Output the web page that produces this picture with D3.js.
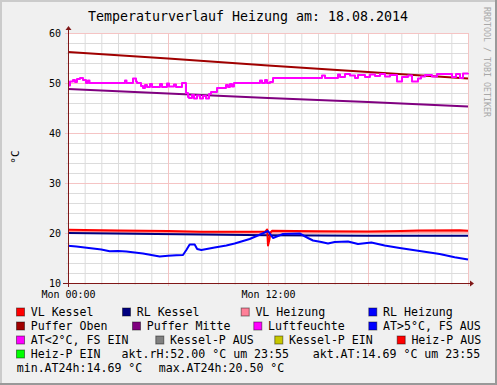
<!DOCTYPE html>
<html><head><meta charset="utf-8">
<script src="https://cdn.jsdelivr.net/npm/d3@7"></script>
<style>body{margin:0;background:#f0f0f0}svg{display:block}text{font-family:"DejaVu Sans Mono",monospace}</style>
</head><body>
<script>
// ---- data ----
const title = "Temperaturverlauf Heizung am: 18.08.2014";
const yTicks = [10, 20, 30, 40, 50, 60];
const xTickHours = [0, 12];
const xTickLabels = ["Mon 00:00", "Mon 12:00"];
// [hour, °C]
const pufferOben = [[0,56.2],[6,54.9],[12,53.5],[18,52.2],[24,50.9]];
const pufferMitte = [[0,48.8],[6,47.9],[12,47.0],[18,46.2],[24,45.3]];
const rlKessel = [[0,20.0],[4,19.85],[8,19.7],[12,19.55],[18,19.45],[24,19.45]];
const vlHeizung = [[0,20.3],[4,20.2],[8,20.1],[12,20.15],[18,20.2],[24,20.25]];
const vlKessel = [[0,20.65],[3,20.5],[6,20.4],[8,20.25],[11,20.25],[11.85,20.3],[11.95,20.7],[12.0,17.5],[12.08,18.6],[12.15,20.1],[12.25,20.45],[15,20.35],[18,20.3],[20,20.4],[21,20.5],[23.5,20.55],[24,20.45]];
const aussen = [[0,17.45],[0.5,17.3],[1,17.1],[1.5,16.9],[2,16.7],[2.5,16.35],[3,16.4],[3.5,16.3],[4,16.1],[4.5,15.9],[5,15.6],[5.5,15.3],[6,15.45],[6.5,15.55],[6.9,15.6],[7.1,16.6],[7.3,17.7],[7.6,17.7],[7.75,16.8],[8,16.6],[8.8,17.1],[9.5,17.5],[10,17.9],[10.9,18.8],[11.6,19.8],[12,20.4],[12.3,19.0],[12.6,19.4],[12.9,19.8],[13.9,19.9],[14.4,19.0],[14.7,18.5],[15.2,18.2],[15.6,17.9],[16.0,18.2],[16.8,18.3],[17.4,17.8],[18.2,18.1],[19,17.5],[19.9,17.0],[21.1,16.4],[22.3,15.8],[23.2,15.15],[24,14.69]];
const luftfeuchte = [[0,49.5],[0.12,50.3],[0.3,50.6],[0.42,50.2],[0.54,50.8],[0.72,51.0],[0.9,50.6],[1.08,50.0],[1.2,50.5],[1.29,50.0],[3.42,50.5],[3.51,50.0],[3.9,50.9],[4.08,50.3],[4.14,50.0],[4.38,49.4],[4.5,49.0],[4.62,49.6],[4.74,49.2],[4.92,49.8],[5.04,49.2],[5.52,49.8],[5.64,49.2],[5.94,49.9],[6.06,49.3],[6.36,49.7],[6.48,49.2],[6.84,50.0],[7.08,48.0],[7.2,47.2],[7.26,47.0],[7.44,47.6],[7.56,46.9],[7.74,47.5],[7.92,46.9],[8.1,47.4],[8.28,46.9],[8.46,47.8],[8.58,48.2],[8.94,49.0],[9.36,49.0],[9.48,49.6],[9.6,49.2],[9.72,49.8],[9.84,49.3],[9.96,50.0],[11.52,50.5],[11.64,50.0],[11.82,50.6],[11.94,50.0],[12.12,50.2],[12.3,51.0],[15.24,51.5],[15.42,51.0],[16.2,51.7],[16.32,51.2],[16.62,51.8],[16.92,51.5],[17.22,51.0],[17.4,51.6],[17.82,51.2],[18.12,51.7],[18.42,51.4],[18.72,51.8],[19.02,51.3],[19.32,51.6],[19.74,50.3],[20.04,51.2],[20.4,51.5],[20.64,50.3],[21.0,50.9],[21.18,51.3],[21.42,51.6],[21.84,51.3],[22.14,51.8],[22.62,51.8],[23.04,51.2],[23.28,51.8],[23.52,51.0],[23.7,51.9],[24.0,52.0]];
const legendLabels = ["VL Kessel","RL Kessel","VL Heizung","RL Heizung","Puffer Oben","Puffer Mitte","Luftfeuchte","AT>5°C, FS AUS","AT<2°C, FS EIN","Kessel-P AUS","Kessel-P EIN","Heiz-P AUS","Heiz-P EIN"];
const legendColors = ["#ff0000","#000080","#ff8098","#0000ff","#a00000","#800080","#ff00ff","#0000ff","#ff00ff","#808080","#c8c800","#ff0000","#00ff00"];
const infoTexts = ["akt.rH:52.00 °C um 23:55","akt.AT:14.69 °C um 23:55","min.AT24h:14.69 °C","max.AT24h:20.50 °C"];

// ---- layout ----
const W = 497, H = 385;
const svg = d3.select("body").append("svg").attr("width", W).attr("height", H);
svg.append("rect").attr("width", W).attr("height", H).attr("fill", "#f0f0f0");
// shade frame
svg.append("rect").attr("x",0).attr("y",0).attr("width",W).attr("height",2).attr("fill","#cbcbcb");
svg.append("rect").attr("x",0).attr("y",0).attr("width",2).attr("height",H).attr("fill","#cbcbcb");
svg.append("rect").attr("x",0).attr("y",H-2).attr("width",W).attr("height",2).attr("fill","#999");
svg.append("rect").attr("x",W-2).attr("y",0).attr("width",2).attr("height",H).attr("fill","#999");

const x = d3.scaleLinear().domain([0, 24]).range([68, 468]);
const y = d3.scaleLinear().domain([10, 60]).range([283, 33]);

svg.append("rect").attr("x", x(0)).attr("y", y(60)).attr("width", x(24)-x(0)).attr("height", y(10)-y(60)).attr("fill", "#fff");

const g = svg.append("g");
// minor grid
d3.range(0, 25, 1).filter(h => h % 6 !== 0).forEach(h => {
  g.append("line").attr("x1", x(h)+0.5).attr("x2", x(h)+0.5).attr("y1", y(60)).attr("y2", y(10)+2).attr("stroke", "#dcdcdc");
});
d3.range(10, 61, 2).filter(v => v % 10 !== 0).forEach(v => {
  g.append("line").attr("x1", x(0)-2).attr("x2", x(24)).attr("y1", y(v)+0.5).attr("y2", y(v)+0.5).attr("stroke", "#dcdcdc");
});
// major grid
d3.range(0, 25, 6).forEach(h => {
  g.append("line").attr("x1", x(h)+0.5).attr("x2", x(h)+0.5).attr("y1", y(60)).attr("y2", y(10)+3).attr("stroke", "#f5c4c4");
});
yTicks.forEach(v => {
  g.append("line").attr("x1", x(0)-3).attr("x2", x(24)).attr("y1", y(v)+0.5).attr("y2", y(v)+0.5).attr("stroke", "#f5c4c4");
});

// series
const line = d3.line().x(d => x(d[0])).y(d => y(d[1]));
const step = d3.line().x(d => x(d[0])).y(d => y(d[1])).curve(d3.curveStepAfter);
function draw(data, color, gen, w, op) {
  svg.append("path").datum(data).attr("d", gen).attr("fill", "none").attr("stroke", color)
    .attr("stroke-width", w).attr("stroke-opacity", op || 1).attr("stroke-linejoin", "round");
}
draw(pufferOben, "#a00000", line, 2);
draw(pufferMitte, "#800080", line, 2);
draw(luftfeuchte, "#ff00ff", step, 2);
draw(vlHeizung, "#ff5050", line, 2, 0.6);
draw(rlKessel, "#000080", line, 2);
draw(vlKessel, "#ff0000", line, 2);
draw(aussen, "#0000ff", line, 2);

// axes
const axisColor = "#801818";
const ax = svg.append("g");
ax.append("line").attr("x1", x(0)-5).attr("x2", x(24)+2).attr("y1", y(10)+0.5).attr("y2", y(10)+0.5).attr("stroke", axisColor);
ax.append("path").attr("d", `M${x(24)+2},${y(10)-2.5}L${x(24)+6},${y(10)+0.5}L${x(24)+2},${y(10)+3.5}Z`).attr("fill", axisColor);
ax.append("line").attr("x1", x(0)+0.5).attr("x2", x(0)+0.5).attr("y1", y(10)+4).attr("y2", y(60)-3).attr("stroke", axisColor);
ax.append("path").attr("d", `M${x(0)-2.5},${y(60)-3}L${x(0)+0.5},${y(60)-7}L${x(0)+3.5},${y(60)-3}Z`).attr("fill", axisColor);

const yAxis = svg.append("g").attr("transform", `translate(${x(0)},0.5)`)
  .call(d3.axisLeft(y).tickValues(yTicks).tickSize(0).tickPadding(7).tickFormat(d3.format("d")));
yAxis.select(".domain").remove();
yAxis.selectAll("text").attr("font-family", "DejaVu Sans Mono").attr("font-size", 10).attr("fill", "#000");

const xAxis = svg.append("g").attr("transform", `translate(0,${y(10)})`)
  .call(d3.axisBottom(x).tickValues(xTickHours).tickSize(0).tickPadding(8).tickFormat((d, i) => xTickLabels[i]));
xAxis.select(".domain").remove();
xAxis.selectAll("text").attr("font-family", "DejaVu Sans Mono").attr("font-size", 10).attr("fill", "#000");

// title
svg.append("text").attr("x", 248).attr("y", 20.7).attr("text-anchor", "middle").attr("font-size", 13.3).attr("fill", "#000").text(title);
// y label
svg.append("text").attr("transform", "translate(18.5,157) rotate(-90)").attr("text-anchor", "middle").attr("font-size", 11).attr("fill", "#000").text("°C");
// watermark
svg.append("text").attr("transform", "translate(483.5,7) rotate(90)").attr("font-size", 8.3).attr("fill", "#a8a8a8").text("RRDTOOL / TOBI OETIKER");

// legend
const legendPos = [[16,1],[122,1],[240.7,1],[368.3,1],[16,2],[132,2],[253.3,2],[368.3,2],[16,3],[155.3,3],[274.3,3],[396.7,3],[16,4]];
const rowBase = [0, 315.5, 329.5, 343.5, 357.5, 371.5];
const lg = svg.append("g").attr("font-size", 11.6).attr("fill", "#000");
legendLabels.forEach((lab, i) => {
  const bx = legendPos[i][0], row = legendPos[i][1];
  const by = rowBase[row] - 8;
  lg.append("rect").attr("x", bx + 0.5).attr("y", by + 0.5).attr("width", 8).attr("height", 8)
    .attr("fill", legendColors[i]).attr("stroke", "#000").attr("stroke-opacity", 0.45);
  lg.append("text").attr("x", bx + 14.7).attr("y", rowBase[row]).text(lab);
});
const infoPos = [[121.5,4],[312.7,4],[16.7,5],[158.7,5]];
infoTexts.forEach((t, i) => {
  lg.append("text").attr("x", infoPos[i][0]).attr("y", rowBase[infoPos[i][1]]).attr("xml:space","preserve").text(t);
});
</script>
</body></html>
